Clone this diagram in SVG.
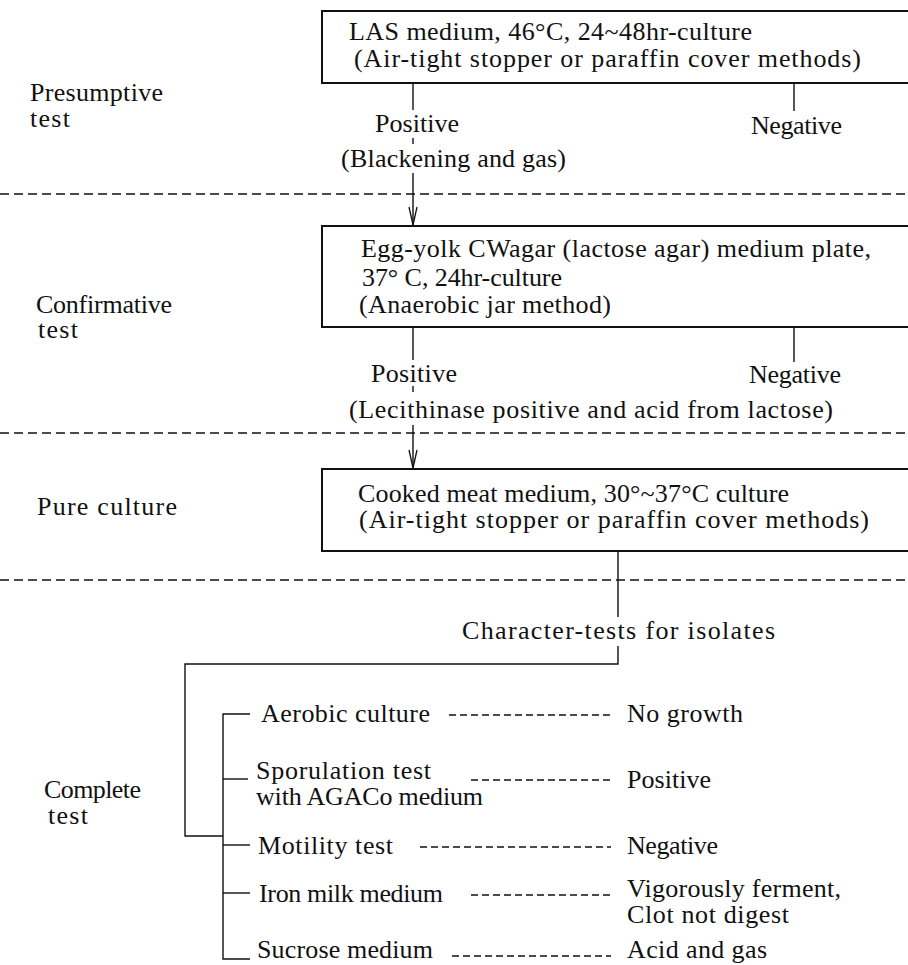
<svg xmlns="http://www.w3.org/2000/svg" width="908" height="965" viewBox="0 0 908 965">
<defs>
<style>
text{font-family:"Liberation Serif","Times New Roman",serif;font-size:26px;fill:#111;}
.box{fill:none;stroke:#111;stroke-width:2;}
.ln{stroke:#111;stroke-width:1.4;fill:none;}
.sep{stroke:#111;stroke-width:1.6;stroke-dasharray:9 5;fill:none;}
.lead{stroke:#111;stroke-width:1.5;stroke-dasharray:7 4;fill:none;}
</style>
<marker id="arr" markerWidth="20" markerHeight="10" refX="19" refY="5" orient="auto" markerUnits="userSpaceOnUse" viewBox="0 0 20 10">
<path d="M1,1 L19,5 L1,9" fill="none" stroke="#111" stroke-width="1.3"/>
</marker>
</defs>
<rect width="908" height="965" fill="#fff"/>

<g id="separators">
<line class="sep" x1="0" y1="194" x2="908" y2="194"/>
<line class="sep" x1="0" y1="433" x2="908" y2="433"/>
<line class="sep" x1="0" y1="580" x2="908" y2="580"/>
</g>

<g id="stage-labels">
<text><tspan x="30" y="101" textLength="133" lengthAdjust="spacing">Presumptive</tspan><tspan x="30" y="127" textLength="40" lengthAdjust="spacing">test</tspan></text>
<text><tspan x="36" y="313" textLength="136" lengthAdjust="spacing">Confirmative</tspan><tspan x="38" y="338" textLength="40" lengthAdjust="spacing">test</tspan></text>
<text x="37" y="515" textLength="140" lengthAdjust="spacing">Pure culture</text>
<text><tspan x="44" y="798" textLength="97" lengthAdjust="spacing">Complete</tspan><tspan x="48" y="824" textLength="40" lengthAdjust="spacing">test</tspan></text>
</g>

<g id="connectors">
<line class="ln" x1="413" y1="83" x2="413" y2="110"/>
<line class="ln" x1="413" y1="138" x2="413" y2="144"/>
<line class="ln" x1="413" y1="173" x2="413" y2="225" marker-end="url(#arr)"/>
<line class="ln" x1="794" y1="83" x2="794" y2="111"/>
<line class="ln" x1="413" y1="327" x2="413" y2="360"/>
<line class="ln" x1="413" y1="386" x2="413" y2="392"/>
<line class="ln" x1="413" y1="425" x2="413" y2="468" marker-end="url(#arr)"/>
<line class="ln" x1="794" y1="327" x2="794" y2="362"/>
<line class="ln" x1="618" y1="551" x2="618" y2="617"/>
<polyline class="ln" points="618,646 618,664 185,664 185,836 223,836"/>
<polyline class="ln" points="250,714 223,714 223,959 250,959"/>
<line class="ln" x1="223" y1="779" x2="248" y2="779"/>
<line class="ln" x1="223" y1="845" x2="250" y2="845"/>
<line class="ln" x1="223" y1="893" x2="250" y2="893"/>
<line class="lead" x1="449" y1="715" x2="611" y2="715"/>
<line class="lead" x1="471" y1="780" x2="611" y2="780"/>
<line class="lead" x1="420" y1="847" x2="611" y2="847"/>
<line class="lead" x1="471" y1="895" x2="611" y2="895"/>
<line class="lead" x1="452" y1="956" x2="611" y2="956"/>
</g>

<g id="presumptive-box">
<rect class="box" x="322" y="11" width="592" height="72"/>
<text><tspan x="349" y="40" textLength="403" lengthAdjust="spacing">LAS  medium, 46°C, 24~48hr-culture</tspan><tspan x="354" y="67" textLength="507" lengthAdjust="spacing">(Air-tight stopper or paraffin cover methods)</tspan></text>
</g>
<g id="presumptive-results">
<text x="375" y="132" textLength="84" lengthAdjust="spacing">Positive</text>
<text x="751" y="134" textLength="91" lengthAdjust="spacing">Negative</text>
<text x="341" y="167" textLength="225" lengthAdjust="spacing">(Blackening and gas)</text>
</g>

<g id="confirmative-box">
<rect class="box" x="322" y="226" width="592" height="101"/>
<text><tspan x="361" y="257" textLength="510" lengthAdjust="spacing">Egg-yolk CWagar (lactose agar) medium plate,</tspan><tspan x="362" y="286" textLength="200" lengthAdjust="spacing">37° C, 24hr-culture</tspan><tspan x="359" y="313" textLength="252" lengthAdjust="spacing">(Anaerobic jar method)</tspan></text>
</g>
<g id="confirmative-results">
<text x="371" y="382" textLength="86" lengthAdjust="spacing">Positive</text>
<text x="749" y="383" textLength="92" lengthAdjust="spacing">Negative</text>
<text x="349" y="418" textLength="484" lengthAdjust="spacing">(Lecithinase positive and acid from lactose)</text>
</g>

<g id="pure-culture-box">
<rect class="box" x="322" y="469" width="592" height="82"/>
<text><tspan x="358" y="502" textLength="431" lengthAdjust="spacing">Cooked meat medium, 30°~37°C culture</tspan><tspan x="359" y="528" textLength="510" lengthAdjust="spacing">(Air-tight stopper or paraffin cover methods)</tspan></text>
</g>

<g id="character-tests">
<text x="462" y="639" textLength="313" lengthAdjust="spacing">Character-tests for isolates</text>
</g>

<g id="test-aerobic">
<text x="261" y="722" textLength="169" lengthAdjust="spacing">Aerobic culture</text>
<text x="627" y="722" textLength="116" lengthAdjust="spacing">No growth</text>
</g>
<g id="test-sporulation">
<text><tspan x="256" y="779" textLength="175" lengthAdjust="spacing">Sporulation test</tspan><tspan x="256" y="805" textLength="227" lengthAdjust="spacing">with AGACo medium</tspan></text>
<text x="627" y="788" textLength="84" lengthAdjust="spacing">Positive</text>
</g>
<g id="test-motility">
<text x="258" y="854" textLength="135" lengthAdjust="spacing">Motility test</text>
<text x="627" y="854" textLength="91" lengthAdjust="spacing">Negative</text>
</g>
<g id="test-iron-milk">
<text x="259" y="902" textLength="184" lengthAdjust="spacing">Iron milk medium</text>
<text><tspan x="627" y="897" textLength="214" lengthAdjust="spacing">Vigorously ferment,</tspan><tspan x="627" y="923" textLength="162" lengthAdjust="spacing">Clot not digest</tspan></text>
</g>
<g id="test-sucrose">
<text x="257" y="958" textLength="176" lengthAdjust="spacing">Sucrose medium</text>
<text x="627" y="958" textLength="140" lengthAdjust="spacing">Acid and gas</text>
</g>
</svg>
